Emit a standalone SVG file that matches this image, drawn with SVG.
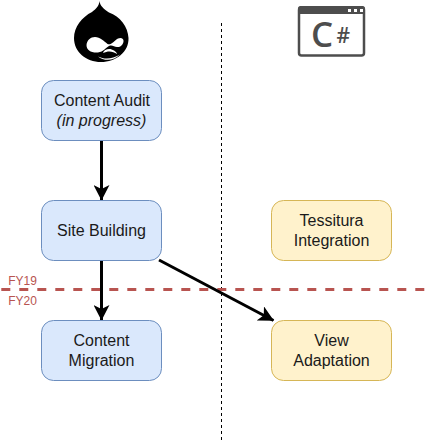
<svg xmlns="http://www.w3.org/2000/svg" width="434" height="442" viewBox="0 0 434 442">
<style>
.box{stroke-width:1}
.blue{fill:#dae8fc;stroke:#6c8ebf}
.yellow{fill:#fff2cc;stroke:#d6b656}
.t{font-family:"Liberation Sans",Arial,sans-serif;font-size:16px;fill:#1a1a1a;text-anchor:middle}
.fy{font-family:"Liberation Sans",Arial,sans-serif;font-size:12px;fill:#b85450;text-anchor:middle}
.c{fill:none;stroke:#000;stroke-width:3}
</style>
<defs>
<marker id="a" markerUnits="userSpaceOnUse" markerWidth="16" markerHeight="16" refX="15" refY="8" orient="auto" viewBox="0 0 16 16">
<path d="M0 0L15.500 8L0 16L4 8Z" fill="#000"/>
</marker>
</defs>
<rect width="434" height="442" fill="#fff"/>
<g id="divider"><line x1="221.500" y1="23" x2="221.500" y2="441" stroke="#000" stroke-dasharray="3 3"/></g>
<g id="fiscal-line"><line x1="1.300" y1="289.500" x2="426" y2="289.500" stroke="#b85450" stroke-width="3" stroke-dasharray="9 9"/></g>
<g id="connectors">
<line class="c" x1="101.500" y1="140.500" x2="101.500" y2="200" marker-end="url(#a)"/>
<line class="c" x1="101.500" y1="260.500" x2="101.500" y2="320" marker-end="url(#a)"/>
<line class="c" x1="159" y1="260" x2="273.500" y2="320.500" marker-end="url(#a)"/>
</g>
<g id="content-audit"><rect class="box blue" x="41.500" y="80.500" width="120" height="60" rx="12"/><text class="t" x="102" y="106">Content Audit</text><text class="t" x="101.500" y="125.500" font-style="italic">(in progress)</text></g>
<g id="site-building"><rect class="box blue" x="41.500" y="200.500" width="120" height="60" rx="12"/><text class="t" x="101.500" y="236">Site Building</text></g>
<g id="content-migration"><rect class="box blue" x="41.500" y="320.500" width="120" height="60" rx="12"/><text class="t" x="101.500" y="346">Content</text><text class="t" x="101.500" y="365.500">Migration</text></g>
<g id="tessitura"><rect class="box yellow" x="271.500" y="200.500" width="120" height="60" rx="12"/><text class="t" x="331.500" y="226">Tessitura</text><text class="t" x="331.500" y="245.500">Integration</text></g>
<g id="view-adaptation"><rect class="box yellow" x="271.500" y="320.500" width="120" height="60" rx="12"/><text class="t" x="331.500" y="346">View</text><text class="t" x="331.500" y="365.500">Adaptation</text></g>
<g id="fy-labels"><text class="fy" x="22.500" y="285">FY19</text><text class="fy" x="22.500" y="305">FY20</text></g>
<g id="drupal-icon">
<path d="M99.500 1C100 6 104 9 109 12.500C120 16 128 27 128.500 38C129 52 116 62 101 62C86 62 74 52 74 38C74 27 82 17 92 12C96 9 99 6 99.500 1Z" fill="#000"/>
<path d="M86.500 45C87 40 90.500 37 95 37C100 37 104 41 107.500 44C111 45.500 114 41 118 38.500C121 37 124 38.500 123.500 41.500C123 45 120 47.500 117 47C114.500 46.500 112.500 45 110 45.500C106 47 103.500 52 98 52.500C91 53 86.500 50 86.500 45Z" fill="#fff"/>
<path d="M98 56.500C104 59.500 112 59.500 120 54.500C114 61 104 61.500 98 56.500ZM103 53C104 49 110 47.500 114 50.500C116 52 117 53 117 54C113 51 108 50.500 103 53Z" fill="#fff"/>
</g>
<g id="csharp-icon">
<rect x="299" y="7.500" width="65" height="48" rx="2.500" fill="#fff" stroke="#4d4d4d" stroke-width="2.500"/>
<path d="M298 14V8.500Q298 6 300.500 6H362.500Q365 6 365 8.500V14Z" fill="#4d4d4d"/>
<rect x="348" y="9" width="3" height="3" fill="#fff"/><rect x="354" y="9" width="3" height="3" fill="#fff"/><rect x="360" y="9" width="3" height="3" fill="#fff"/>
<text x="311" y="47" font-family="'Open Sans','Liberation Sans',sans-serif" font-size="35" font-weight="600" fill="#4d4d4d">C</text>
<text x="336.500" y="43" font-family="'Open Sans','Liberation Sans',sans-serif" font-size="21" font-weight="600" fill="#4d4d4d">#</text>
</g>
</svg>
